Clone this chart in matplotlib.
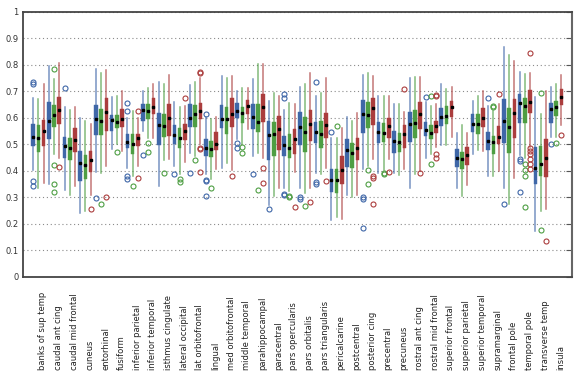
import numpy as np
import matplotlib
matplotlib.use("Agg")
import matplotlib.pyplot as plt

regions = ['banks of sup temp', 'caudal ant cing', 'caudal mid frontal', 'cuneus',
           'entorhinal', 'fusiform', 'inferior parietal', 'inferior temporal',
           'isthmus cingulate', 'lateral occipital', 'lat orbitofrontal', 'lingual',
           'med orbitofrontal', 'middle temporal', 'parahippocampal', 'paracentral',
           'pars opercularis', 'pars orbitalis', 'pars triangularis', 'pericalcarine',
           'postcentral', 'posterior cing', 'precentral', 'precuneus',
           'rostral ant cing', 'rostral mid frontal', 'superior frontal',
           'superior parietal', 'superior temporal', 'supramarginal', 'frontal pole',
           'temporal pole', 'transverse temp', 'insula']

yticks = [0, 0.1, 0.2, 0.3, 0.4, 0.5, 0.6, 0.7, 0.8, 0.9, 1]
ytick_labels = ['0', '0.1', '0.2', '0.3', '0.4', '0.5', '0.6', '0.7', '0.8', '0.9', '1']

# each row: whisker low, q1, median, q3, whisker high
blue_box = [
    [0.405, 0.496, 0.527, 0.577, 0.675], [0.350, 0.521, 0.587, 0.659, 0.796],
    [0.327, 0.449, 0.496, 0.530, 0.642], [0.242, 0.362, 0.430, 0.475, 0.600],
    [0.395, 0.534, 0.596, 0.650, 0.784], [0.482, 0.551, 0.591, 0.611, 0.679],
    [0.413, 0.486, 0.511, 0.538, 0.601], [0.551, 0.589, 0.629, 0.654, 0.702],
    [0.343, 0.497, 0.574, 0.620, 0.737], [0.419, 0.503, 0.535, 0.572, 0.662],
    [0.469, 0.566, 0.599, 0.654, 0.725], [0.390, 0.457, 0.488, 0.519, 0.604],
    [0.410, 0.561, 0.595, 0.648, 0.758], [0.520, 0.599, 0.626, 0.658, 0.702],
    [0.457, 0.557, 0.604, 0.654, 0.746], [0.270, 0.440, 0.537, 0.590, 0.665],
    [0.335, 0.455, 0.499, 0.533, 0.630], [0.337, 0.498, 0.566, 0.623, 0.717],
    [0.394, 0.507, 0.548, 0.586, 0.683], [0.214, 0.322, 0.365, 0.409, 0.526],
    [0.310, 0.415, 0.478, 0.519, 0.604], [0.409, 0.545, 0.616, 0.667, 0.762],
    [0.394, 0.507, 0.548, 0.586, 0.683], [0.394, 0.469, 0.513, 0.551, 0.654],
    [0.337, 0.511, 0.576, 0.624, 0.750], [0.448, 0.532, 0.555, 0.586, 0.660],
    [0.498, 0.570, 0.604, 0.639, 0.730], [0.335, 0.415, 0.448, 0.482, 0.545],
    [0.463, 0.548, 0.576, 0.616, 0.664], [0.381, 0.478, 0.513, 0.548, 0.645],
    [0.335, 0.507, 0.589, 0.670, 0.868], [0.460, 0.582, 0.658, 0.692, 0.775],
    [0.174, 0.350, 0.413, 0.491, 0.679], [0.530, 0.582, 0.635, 0.658, 0.717],
]
blue_fliers = [
    [0.735, 0.730, 0.364, 0.343], [], [0.712], [], [0.298], [],
    [0.658, 0.626, 0.381, 0.368], [0.462], [], [0.387], [0.391],
    [0.614, 0.365, 0.362, 0.305], [], [0.507, 0.486], [0.387], [0.255],
    [0.690, 0.674, 0.314, 0.310], [0.300, 0.293], [0.737, 0.360, 0.352], [0.547],
    [], [0.302, 0.293, 0.186], [], [], [], [0.679], [], [], [], [0.677], [0.274],
    [0.444, 0.438, 0.322], [], [0.500],
]

green_box = [
    [0.335, 0.471, 0.525, 0.572, 0.671], [0.463, 0.567, 0.611, 0.650, 0.746],
    [0.310, 0.440, 0.487, 0.525, 0.630], [0.249, 0.371, 0.422, 0.461, 0.587],
    [0.394, 0.534, 0.587, 0.634, 0.771], [0.500, 0.561, 0.586, 0.610, 0.683],
    [0.381, 0.465, 0.503, 0.538, 0.626], [0.526, 0.595, 0.626, 0.654, 0.714],
    [0.440, 0.530, 0.570, 0.614, 0.727], [0.390, 0.486, 0.526, 0.561, 0.642],
    [0.455, 0.566, 0.616, 0.648, 0.737], [0.369, 0.453, 0.482, 0.513, 0.595],
    [0.431, 0.541, 0.597, 0.643, 0.750], [0.500, 0.582, 0.620, 0.642, 0.714],
    [0.469, 0.548, 0.586, 0.652, 0.805], [0.306, 0.457, 0.541, 0.586, 0.696],
    [0.324, 0.448, 0.488, 0.538, 0.658], [0.318, 0.473, 0.548, 0.604, 0.727],
    [0.387, 0.488, 0.538, 0.589, 0.696], [0.226, 0.318, 0.365, 0.409, 0.526],
    [0.300, 0.413, 0.469, 0.507, 0.589], [0.420, 0.561, 0.611, 0.660, 0.771],
    [0.405, 0.511, 0.545, 0.582, 0.683], [0.385, 0.473, 0.511, 0.542, 0.652],
    [0.387, 0.523, 0.582, 0.629, 0.755], [0.463, 0.519, 0.545, 0.572, 0.645],
    [0.498, 0.579, 0.608, 0.645, 0.708], [0.306, 0.406, 0.444, 0.473, 0.574],
    [0.478, 0.538, 0.579, 0.614, 0.683], [0.381, 0.465, 0.511, 0.532, 0.625],
    [0.277, 0.469, 0.566, 0.639, 0.836], [0.450, 0.582, 0.644, 0.674, 0.767],
    [0.249, 0.381, 0.425, 0.494, 0.614], [0.530, 0.608, 0.643, 0.664, 0.727],
]
green_fliers = [
    [], [0.786, 0.424, 0.352, 0.320], [], [], [0.274], [0.473], [0.345],
    [0.507, 0.473], [0.391], [0.369, 0.360], [0.441], [0.335], [], [0.490, 0.469],
    [0.327], [], [0.305, 0.302], [0.268], [], [0.570], [], [0.405, 0.352],
    [0.394, 0.389], [], [], [0.683, 0.428], [], [], [], [0.645, 0.640], [],
    [0.425, 0.402, 0.381, 0.264], [0.693, 0.176], [0.507],
]

red_box = [
    [0.356, 0.496, 0.550, 0.592, 0.730], [0.450, 0.577, 0.631, 0.680, 0.809],
    [0.345, 0.471, 0.517, 0.561, 0.642], [0.310, 0.396, 0.440, 0.475, 0.577],
    [0.419, 0.549, 0.621, 0.674, 0.780], [0.475, 0.566, 0.595, 0.633, 0.702],
    [0.420, 0.494, 0.523, 0.541, 0.600], [0.526, 0.614, 0.641, 0.674, 0.727],
    [0.444, 0.532, 0.601, 0.654, 0.762], [0.435, 0.517, 0.551, 0.576, 0.645],
    [0.500, 0.595, 0.626, 0.658, 0.752], [0.406, 0.478, 0.501, 0.548, 0.604],
    [0.402, 0.566, 0.616, 0.674, 0.758], [0.557, 0.616, 0.644, 0.666, 0.714],
    [0.450, 0.586, 0.642, 0.689, 0.805], [0.335, 0.478, 0.560, 0.608, 0.683],
    [0.397, 0.465, 0.519, 0.557, 0.654], [0.337, 0.513, 0.576, 0.629, 0.771],
    [0.413, 0.523, 0.574, 0.620, 0.750], [0.218, 0.352, 0.403, 0.457, 0.561],
    [0.310, 0.440, 0.488, 0.523, 0.620], [0.444, 0.574, 0.636, 0.677, 0.758],
    [0.444, 0.523, 0.570, 0.599, 0.683], [0.406, 0.488, 0.538, 0.572, 0.624],
    [0.400, 0.557, 0.616, 0.660, 0.755], [0.490, 0.545, 0.570, 0.589, 0.652],
    [0.528, 0.604, 0.642, 0.664, 0.717], [0.347, 0.423, 0.460, 0.491, 0.545],
    [0.475, 0.566, 0.599, 0.636, 0.702], [0.400, 0.501, 0.530, 0.570, 0.652],
    [0.372, 0.523, 0.620, 0.670, 0.815], [0.490, 0.620, 0.662, 0.704, 0.771],
    [0.255, 0.377, 0.450, 0.519, 0.702], [0.575, 0.648, 0.679, 0.711, 0.761],
]
red_fliers = [
    [], [0.416], [], [0.255], [0.302], [], [0.626, 0.372], [], [], [0.677],
    [0.774, 0.769, 0.488, 0.482, 0.397], [], [0.381], [], [0.410, 0.355], [],
    [0.263], [0.283], [0.362], [], [], [0.381, 0.375, 0.274], [0.396], [0.708],
    [0.391], [0.687, 0.683, 0.465, 0.450], [], [], [], [0.689], [],
    [0.847, 0.486, 0.475, 0.463, 0.444, 0.425, 0.406], [0.136], [0.535],
]

series = [
    (blue_box, blue_fliers, '#3f67a8', -0.33),
    (green_box, green_fliers, '#4e9e43', 0.0),
    (red_box, red_fliers, '#ab3d3d', 0.33),
]

fig = plt.figure(figsize=(5.86, 3.86), dpi=100)
ax = fig.add_axes([0.0387, 0.2824, 0.9373, 0.6866])

centers = np.arange(1, len(regions) + 1)

for boxes, fliers, color, offset in series:
    stats = []
    for row, fl in zip(boxes, fliers):
        stats.append(dict(whislo=row[0], q1=row[1], med=row[2], q3=row[3],
                          whishi=row[4], fliers=fl))
    pos = centers + offset
    ax.bxp(stats, positions=pos, widths=0.23, patch_artist=True, showcaps=False,
           boxprops=dict(facecolor=color, edgecolor=color, linewidth=0.3),
           whiskerprops=dict(color=color, linewidth=1.1, alpha=0.7),
           medianprops=dict(linewidth=0),
           flierprops=dict(marker='o', markerfacecolor='none', markeredgecolor=color,
                           markersize=3.6, markeredgewidth=0.8, linestyle='none'),
           manage_ticks=False)
    meds = [row[2] for row in boxes]
    ax.plot(pos, meds, linestyle='none', marker='s', color='black',
            markersize=1.6, zorder=5)

ax.set_xlim(0, len(regions) + 1)
ax.set_ylim(0, 1)
ax.set_yticks(yticks)
ax.set_yticklabels(ytick_labels, fontsize=6, color='#333333')
ax.tick_params(axis='y', left=False, right=True, direction='in', length=4,
               color='#555555', pad=3)
ax.set_xticks(centers)
ax.set_xticklabels(regions, rotation=90, fontsize=6, ha='left', va='bottom',
                   color='#222222')
ax.tick_params(axis='x', length=0, pad=67)

ax.yaxis.grid(True, linestyle=(0, (1, 2.5)), color='#8a8a8a', linewidth=0.8)
ax.set_axisbelow(True)
for side in ['left', 'bottom', 'top']:
    ax.spines[side].set_color('#444444')
    ax.spines[side].set_linewidth(1.3)
ax.spines['right'].set_color('#666666')
ax.spines['right'].set_linewidth(1.5)

fig.savefig('out.png', dpi=100)
